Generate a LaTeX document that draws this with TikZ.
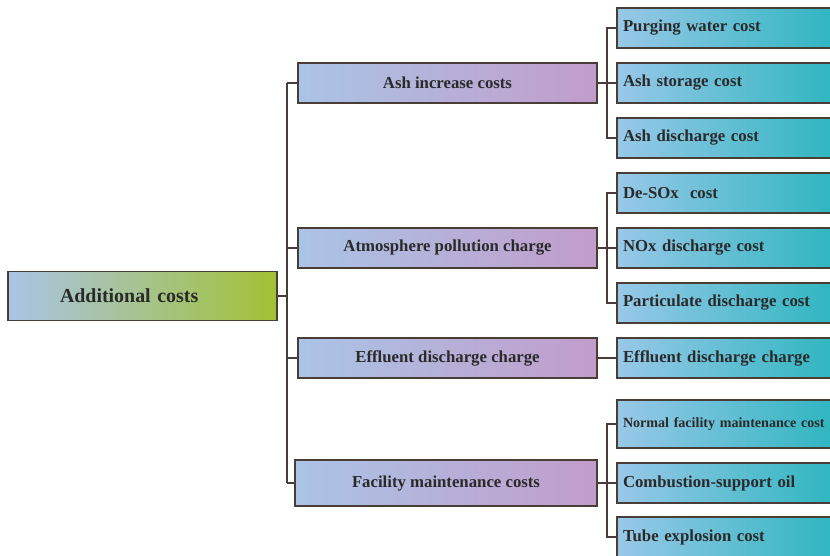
\documentclass[tikz,border=0pt]{standalone}
\usepackage{fontspec}
\setmainfont{Liberation Serif}
\usetikzlibrary{positioning}

\definecolor{edgebrown}{HTML}{4A3C36}
\definecolor{paleblue}{HTML}{AAC4E6}
\definecolor{mauve}{HTML}{C29CCB}
\definecolor{rootgreen}{HTML}{A2C234}
\definecolor{leafblue}{HTML}{98C8E8}
\definecolor{leafteal}{HTML}{2EB6C0}
\definecolor{inkgray}{HTML}{2A2A2A}

\begin{document}
\begin{tikzpicture}[x = 0.03cm, y = -0.03cm, node distance = 0.45cm,
    wire/.style = {draw = edgebrown, line width = 1.5pt},
    box/.style = {rectangle, draw = edgebrown, line width = 1.5pt, inner sep = 0pt, outer sep = 0pt,
        minimum height = 1.2cm, text = inkgray, font = \bfseries\fontsize{14.3}{16}\selectfont},
    rootbox/.style = {box, left color = paleblue, right color = rootgreen, minimum height = 1.47cm,
        inner xsep = 1.56cm, text width = 4.95cm, align = left, font = \bfseries\fontsize{17}{19}\selectfont},
    midbox/.style = {box, left color = paleblue, right color = mauve, minimum width = 8.97cm},
    leafbox/.style = {box, left color = leafblue, right color = leafteal,
        inner xsep = 0.18cm, text width = 6.21cm, align = left}]
    \useasboundingbox (0,0) rectangle (830,556);

    % leaves
    \node[leafbox, anchor = west]           (l1)  at (617,28) {Purging water cost};
    \node[leafbox, below = of l1]           (l2)  {Ash storage cost};
    \node[leafbox, below = of l2]           (l3)  {Ash discharge cost};
    \node[leafbox, below = of l3]           (l4)  {De-SOx\ \ cost};
    \node[leafbox, below = of l4]           (l5)  {NOx discharge cost};
    \node[leafbox, below = of l5]           (l6)  {Particulate discharge cost};
    \node[leafbox, below = of l6]           (l7)  {Effluent discharge charge};
    \node[leafbox, below = 0.66cm of l7, minimum height = 1.44cm,
        font = \bfseries\fontsize{12}{14}\selectfont] (l8) {Normal facility maintenance cost};
    \node[leafbox, below = of l8]           (l9)  {Combustion-support oil};
    \node[leafbox, below = 0.42cm of l9]    (l10) {Tube explosion cost};

    % middle level
    \node[midbox, left = 0.6cm of l2]       (m1)  {Ash increase costs};
    \node[midbox, left = 0.6cm of l5]       (m2)  {Atmosphere pollution charge};
    \node[midbox, left = 0.6cm of l7]       (m3)  {Effluent discharge charge};
    \node[midbox, left = 0.6cm of l9, minimum width = 9.06cm, minimum height = 1.38cm] (m4) {Facility maintenance costs};

    % root
    \node[rootbox, anchor = west]           (root) at (8,296) {Additional costs};

    % connectors
    \draw[wire] (root.east) -- ++(10,0) coordinate (trunk);
    \draw[wire] (trunk |- m1.west) -- (trunk |- m4.west);
    \foreach \m in {m1,m2,m3,m4}
        \draw[wire] (trunk |- \m.west) -- (\m.west);

    \foreach \m/\a/\b/\c in {m1/l1/l2/l3, m2/l4/l5/l6, m4/l8/l9/l10} {
        \draw[wire] (\m.east) -- ++(10,0) coordinate (fork);
        \draw[wire] (\a.west) -- (fork |- \a.west) -- (fork |- \c.west) -- (\c.west);
        \draw[wire] (\m.east) -- (\b.west);
    }
    \draw[wire] (m3.east) -- (l7.west);
\end{tikzpicture}
\end{document}
